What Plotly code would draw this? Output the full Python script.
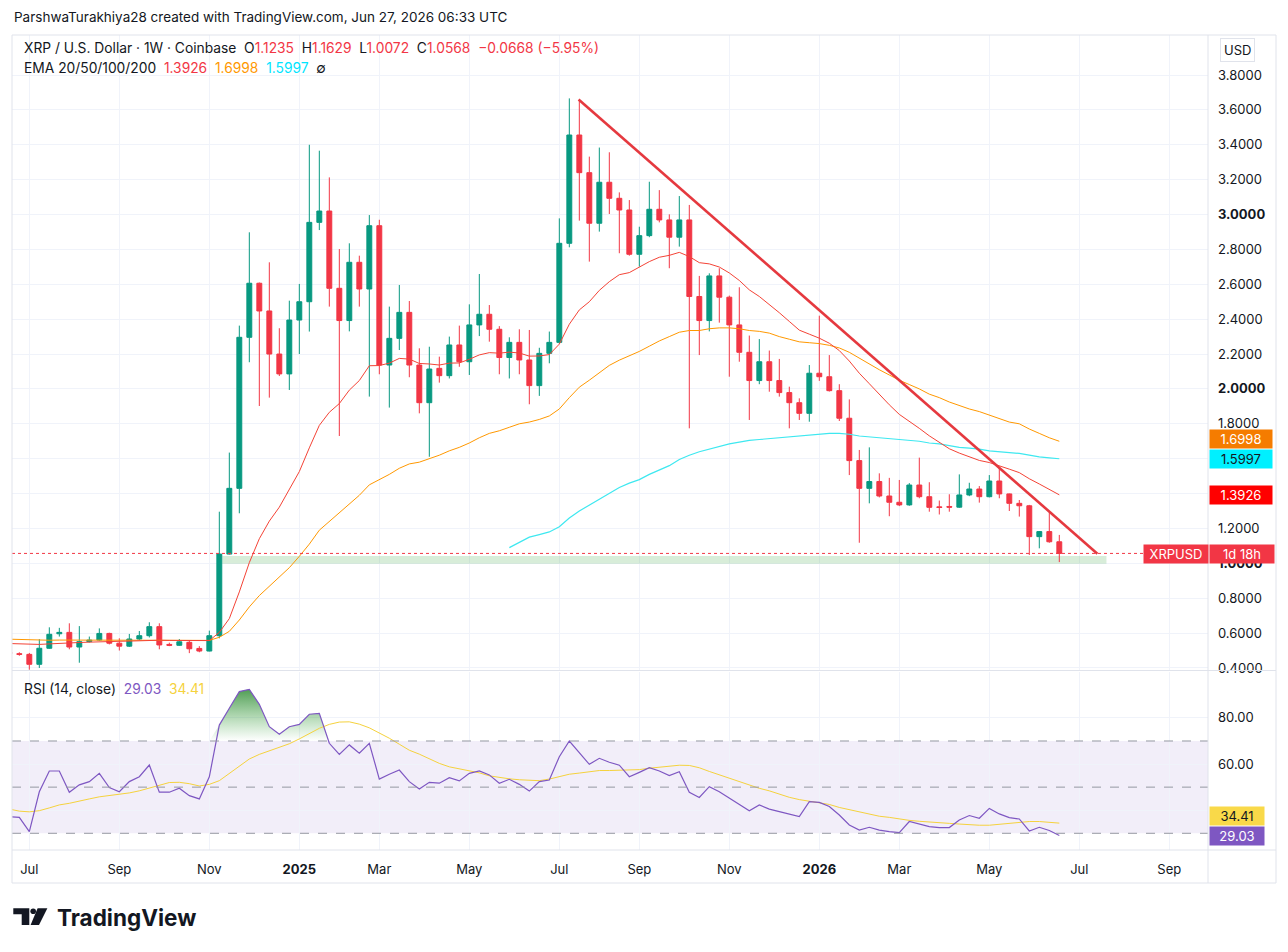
import numpy as np
import pandas as pd
import plotly.graph_objects as go
from plotly.subplots import make_subplots

# XRP / USD weekly candles (Coinbase), week of 2024-06-17 onwards
opens = [0.490, 0.482, 0.478, 0.421, 0.513, 0.596, 0.604, 0.520, 0.551, 0.560,
         0.598, 0.542, 0.525, 0.566, 0.585, 0.637, 0.535, 0.530, 0.547, 0.512,
         0.497, 0.585, 1.053, 1.430, 2.296, 2.606, 2.447, 2.200, 2.086, 2.395,
         2.500, 2.955, 3.020, 2.577, 2.392, 2.726, 2.573, 2.936, 2.137, 2.290,
         2.439, 2.137, 1.921, 2.118, 2.076, 2.252, 2.156, 2.367, 2.428, 2.342,
         2.180, 2.267, 2.166, 2.019, 2.204, 2.267, 2.835, 3.456, 3.240, 2.950,
         3.185, 3.093, 3.026, 2.772, 2.879, 3.030, 2.969, 2.870, 2.969, 2.530,
         2.392, 2.648, 2.526, 2.367, 2.210, 2.048, 2.156, 2.048, 1.979, 1.921,
         1.860, 2.090, 2.070, 1.990, 1.832, 1.589, 1.430, 1.469, 1.386, 1.350,
         1.335, 1.449, 1.382, 1.324, 1.326, 1.322, 1.392, 1.426, 1.382, 1.472,
         1.398, 1.344, 1.330, 1.153, 1.182, 1.1235]
highs = [0.498, 0.490, 0.486, 0.565, 0.633, 0.630, 0.656, 0.640, 0.580, 0.627,
         0.602, 0.570, 0.595, 0.612, 0.662, 0.656, 0.545, 0.566, 0.560, 0.525,
         0.614, 1.296, 1.635, 2.363, 2.898, 2.610, 2.726, 2.348, 2.506, 2.602,
         3.400, 3.366, 3.213, 2.802, 2.835, 2.764, 2.997, 2.970, 2.472, 2.596,
         2.504, 2.233, 2.242, 2.185, 2.300, 2.363, 2.485, 2.659, 2.481, 2.360,
         2.296, 2.342, 2.338, 2.236, 2.329, 2.978, 3.666, 3.657, 3.332, 3.384,
         3.357, 3.127, 3.083, 2.930, 3.188, 3.140, 3.001, 3.106, 3.055, 2.648,
         2.663, 2.692, 2.535, 2.583, 2.306, 2.286, 2.220, 2.172, 2.013, 1.946,
         2.137, 2.420, 2.194, 2.027, 1.940, 1.650, 1.665, 1.516, 1.490, 1.478,
         1.460, 1.606, 1.465, 1.360, 1.396, 1.510, 1.462, 1.443, 1.506, 1.548,
         1.400, 1.363, 1.335, 1.185, 1.296, 1.1629]
lows = [0.476, 0.470, 0.390, 0.400, 0.510, 0.580, 0.507, 0.430, 0.546, 0.555,
        0.535, 0.500, 0.520, 0.560, 0.575, 0.507, 0.525, 0.527, 0.485, 0.490,
        0.495, 0.570, 1.050, 1.287, 2.153, 1.902, 1.950, 2.074, 1.994, 2.200,
        2.329, 2.911, 2.472, 1.730, 2.330, 2.472, 1.956, 2.084, 1.893, 2.223,
        2.067, 1.860, 1.611, 2.036, 2.060, 2.127, 2.080, 2.303, 2.271, 2.084,
        2.060, 2.084, 1.912, 1.960, 2.147, 2.260, 2.812, 2.965, 2.730, 2.902,
        3.003, 2.778, 2.764, 2.701, 2.870, 2.955, 2.692, 2.816, 1.774, 2.194,
        2.330, 2.380, 2.070, 2.156, 1.822, 2.027, 1.984, 1.956, 1.774, 1.822,
        1.812, 2.046, 1.985, 1.816, 1.506, 1.118, 1.344, 1.378, 1.270, 1.328,
        1.330, 1.373, 1.296, 1.280, 1.296, 1.318, 1.385, 1.348, 1.378, 1.373,
        1.300, 1.268, 1.048, 1.086, 1.118, 1.0072]
closes = [0.482, 0.478, 0.421, 0.513, 0.593, 0.604, 0.520, 0.551, 0.560, 0.598,
          0.542, 0.525, 0.566, 0.585, 0.637, 0.532, 0.530, 0.550, 0.510, 0.497,
          0.585, 1.053, 1.430, 2.296, 2.606, 2.447, 2.200, 2.086, 2.395, 2.500,
          2.955, 3.020, 2.577, 2.392, 2.726, 2.573, 2.936, 2.137, 2.290, 2.439,
          2.137, 1.921, 2.114, 2.076, 2.252, 2.156, 2.367, 2.428, 2.342, 2.180,
          2.267, 2.166, 2.019, 2.204, 2.267, 2.835, 3.456, 3.240, 2.950, 3.185,
          3.093, 3.026, 2.772, 2.879, 3.030, 2.969, 2.870, 2.969, 2.530, 2.392,
          2.648, 2.526, 2.367, 2.210, 2.048, 2.156, 2.048, 1.979, 1.921, 1.860,
          2.090, 2.070, 1.990, 1.832, 1.589, 1.430, 1.469, 1.386, 1.350, 1.335,
          1.449, 1.382, 1.321, 1.320, 1.322, 1.392, 1.426, 1.382, 1.472, 1.398,
          1.344, 1.330, 1.153, 1.182, 1.1236, 1.0568]
weeks = pd.date_range('2024-06-17', periods=len(opens), freq='W-MON')

# EMA 20 / 50 / 100 as drawn (EMA 200 has no value yet)
ema20 = [0.540, 0.538, 0.535, 0.535, 0.538, 0.542, 0.544, 0.546, 0.548, 0.551,
         0.553, 0.553, 0.554, 0.556, 0.560, 0.559, 0.558, 0.558, 0.556, 0.554,
         0.557, 0.604, 0.683, 0.836, 1.004, 1.141, 1.242, 1.322, 1.424, 1.526,
         1.662, 1.791, 1.866, 1.916, 1.993, 2.048, 2.133, 2.134, 2.148, 2.175,
         2.171, 2.146, 2.143, 2.137, 2.148, 2.149, 2.170, 2.195, 2.208, 2.205,
         2.211, 2.206, 2.188, 2.189, 2.197, 2.257, 2.371, 2.453, 2.500, 2.565,
         2.615, 2.655, 2.667, 2.700, 2.730, 2.755, 2.766, 2.783, 2.759, 2.724,
         2.717, 2.699, 2.665, 2.622, 2.568, 2.530, 2.485, 2.437, 2.387, 2.337,
         2.314, 2.291, 2.262, 2.220, 2.160, 2.090, 2.030, 1.968, 1.909, 1.854,
         1.815, 1.774, 1.731, 1.692, 1.657, 1.632, 1.611, 1.590, 1.578, 1.561,
         1.540, 1.520, 1.485, 1.455, 1.423, 1.3926]
ema50 = [0.565, 0.563, 0.560, 0.558, 0.559, 0.560, 0.560, 0.560, 0.560, 0.560,
         0.560, 0.559, 0.559, 0.560, 0.561, 0.560, 0.559, 0.559, 0.558, 0.557,
         0.558, 0.576, 0.610, 0.675, 0.750, 0.815, 0.870, 0.920, 0.975, 1.040,
         1.110, 1.190, 1.240, 1.290, 1.340, 1.390, 1.450, 1.480, 1.510, 1.545,
         1.570, 1.580, 1.600, 1.620, 1.645, 1.665, 1.690, 1.720, 1.745, 1.760,
         1.780, 1.800, 1.810, 1.825, 1.845, 1.885, 1.950, 2.010, 2.050, 2.095,
         2.135, 2.165, 2.190, 2.215, 2.245, 2.275, 2.300, 2.325, 2.335, 2.335,
         2.345, 2.350, 2.350, 2.345, 2.335, 2.330, 2.320, 2.300, 2.285, 2.270,
         2.265, 2.260, 2.250, 2.235, 2.210, 2.175, 2.145, 2.110, 2.080, 2.050,
         2.025, 2.000, 1.970, 1.950, 1.925, 1.905, 1.885, 1.870, 1.850, 1.830,
         1.810, 1.800, 1.770, 1.745, 1.720, 1.6998]
ema100 = [None] * 50 + [
         1.090, 1.120, 1.150, 1.165, 1.180, 1.210, 1.260, 1.300, 1.335, 1.370,
         1.405, 1.435, 1.460, 1.480, 1.510, 1.535, 1.560, 1.595, 1.620, 1.640,
         1.655, 1.670, 1.685, 1.695, 1.705, 1.710, 1.715, 1.720, 1.725, 1.730,
         1.735, 1.740, 1.745, 1.745, 1.740, 1.730, 1.725, 1.720, 1.715, 1.710,
         1.705, 1.700, 1.690, 1.685, 1.675, 1.665, 1.660, 1.655, 1.645, 1.640,
         1.635, 1.630, 1.620, 1.610, 1.605, 1.5997]

# RSI (14, close) and its moving average
rsi = [37.2, 36.9, 30.7, 48.0, 57.0, 57.0, 47.8, 51.0, 52.4, 56.0,
       49.8, 48.0, 52.4, 54.5, 59.6, 47.8, 47.8, 49.5, 46.3, 44.9,
       54.5, 76.9, 84.2, 91.4, 92.4, 85.9, 76.2, 72.9, 76.2, 77.2,
       81.6, 82.0, 69.0, 64.2, 68.3, 64.7, 69.0, 53.5, 55.6, 57.4,
       52.4, 49.2, 52.1, 51.7, 54.1, 52.7, 56.0, 57.0, 55.3, 51.7,
       53.4, 51.2, 48.3, 52.4, 53.1, 63.2, 70.0, 65.1, 59.9, 62.5,
       60.8, 59.5, 54.5, 56.4, 58.4, 57.0, 55.0, 56.7, 47.8, 45.5,
       50.2, 48.0, 45.2, 42.6, 39.8, 42.3, 40.5, 39.4, 38.4, 37.2,
       43.7, 43.4, 41.6, 37.9, 33.6, 31.4, 32.6, 31.4, 30.7, 30.3,
       35.1, 33.9, 32.9, 32.5, 32.5, 35.8, 37.7, 36.5, 40.8, 38.4,
       36.8, 36.2, 31.0, 32.6, 31.2, 29.03]
rsi_ma = [40.5, 39.6, 39.3, 39.8, 41.0, 42.3, 43.0, 43.8, 44.9, 45.8,
          46.3, 46.7, 47.5, 48.4, 49.5, 50.8, 52.0, 52.1, 51.5, 50.5,
          51.2, 52.8, 56.0, 59.0, 62.2, 64.2, 65.7, 67.3, 68.8, 70.9,
          73.3, 75.5, 77.2, 78.2, 78.3, 77.3, 75.7, 73.5, 71.2, 68.6,
          66.0, 64.3, 62.2, 60.3, 58.8, 57.9, 57.0, 56.2, 54.9, 54.2,
          53.6, 53.2, 52.9, 52.8, 53.5, 54.5, 55.6, 56.1, 56.6, 57.2,
          57.2, 57.3, 57.4, 57.6, 58.2, 58.6, 59.1, 59.5, 59.4, 58.4,
          56.8, 55.3, 53.8, 52.3, 50.9, 49.5, 48.4, 47.0, 45.6, 44.6,
          43.9, 43.4, 42.5, 41.2, 40.3, 39.5, 38.5, 37.4, 36.9, 36.2,
          35.6, 35.2, 34.8, 34.4, 34.3, 34.0, 33.6, 33.5, 33.5, 33.9,
          34.3, 34.8, 35.1, 35.1, 34.9, 34.41]

# drawings on the chart: falling trendline and support zone
trend_dates = ['2025-07-20 12:00', '2026-07-18 16:00']
trend_prices = [3.66, 1.055]
zone_dates = ['2024-11-13', '2026-07-25']
zone_prices = [0.997, 1.042]

month_ticks = ['2024-07-01', '2024-09-02', '2024-11-04', '2025-01-06', '2025-03-03',
               '2025-05-05', '2025-07-07', '2025-09-01', '2025-11-03', '2026-01-05',
               '2026-03-02', '2026-05-04', '2026-07-06', '2026-09-07']
month_labels = ['Jul', 'Sep', 'Nov', '<b>2025</b>', 'Mar', 'May', 'Jul', 'Sep', 'Nov',
                '<b>2026</b>', 'Mar', 'May', 'Jul', 'Sep']
price_ticks = [round(0.4 + 0.2 * i, 1) for i in range(18)]
hidden_prices = [1.4, 1.6]   # covered by the EMA tags on the price scale
price_labels = ['' if v in hidden_prices else
                ('<b>%.4f</b>' % v if abs(v - round(v)) < 1e-9 else '%.4f' % v)
                for v in price_ticks]
rsi_ticks = [40, 60, 80]
rsi_labels = ['', '60.00', '80.00']

FONT = 'Inter, Roboto, sans-serif'
TEXT = '#131722'
GREEN = '#089981'
RED = '#f23645'
GRID = '#f0f3fa'
FRAME = '#e0e3eb'

# page pixels: the figure sits 8px inside the page (body margin)
OFF = 8
W, H = 1288 - OFF, 952 - OFF
L, R, T, B = 12, 1208, 35, 850   # plot area on the page


def px(x):
    return (x - L) / (R - L)


def py(y):
    return (B - y) / (B - T)


fig = make_subplots(rows=2, cols=1, shared_xaxes=True,
                    vertical_spacing=2 / (B - T), row_heights=[635, 178])

fig.add_trace(go.Candlestick(
    x=weeks, open=opens, high=highs, low=lows, close=closes,
    increasing=dict(line=dict(color=GREEN, width=1), fillcolor=GREEN),
    decreasing=dict(line=dict(color=RED, width=1), fillcolor=RED),
    whiskerwidth=0, hoverinfo='skip'), row=1, col=1)

fig.add_trace(go.Scatter(x=weeks, y=ema100, mode='lines', line=dict(color='#3ee8f0', width=1.2)), row=1, col=1)
fig.add_trace(go.Scatter(x=weeks, y=ema50, mode='lines', line=dict(color='#ff9800', width=1)), row=1, col=1)
fig.add_trace(go.Scatter(x=weeks, y=ema20, mode='lines', line=dict(color='#f44336', width=1)), row=1, col=1)
fig.add_trace(go.Scatter(x=trend_dates, y=trend_prices, mode='lines',
                         line=dict(color='#e5393f', width=2.6)), row=1, col=1)

# overbought gradient fill
fig.add_trace(go.Scatter(x=weeks, y=[70] * len(rsi), mode='lines', line=dict(width=0)), row=2, col=1)
fig.add_trace(go.Scatter(x=weeks, y=np.maximum(rsi, 70), mode='lines', line=dict(width=0),
                         fill='tonexty',
                         fillgradient=dict(type='vertical', start=70, stop=93,
                                           colorscale=[[0, 'rgba(76,175,80,0)'],
                                                       [1, 'rgba(56,142,60,0.9)']])),
              row=2, col=1)
fig.add_trace(go.Scatter(x=weeks, y=rsi_ma, mode='lines', line=dict(color='#f5d23d', width=1)), row=2, col=1)
fig.add_trace(go.Scatter(x=weeks, y=rsi, mode='lines', line=dict(color='#7e57c2', width=1.2)), row=2, col=1)

shapes = [
    # support zone and last-price line
    dict(type='rect', xref='x', yref='y', x0=zone_dates[0], x1=zone_dates[1],
         y0=zone_prices[0], y1=zone_prices[1], fillcolor='rgba(76,175,80,0.22)',
         line=dict(width=0), layer='between'),
    dict(type='line', xref='paper', yref='y', x0=0, x1=px(1143), y0=closes[-1], y1=closes[-1],
         line=dict(color=RED, width=1, dash='dot')),
    # RSI band and levels
    dict(type='rect', xref='paper', yref='y2', x0=0, x1=1, y0=30, y1=70,
         fillcolor='rgba(126,87,194,0.1)', line=dict(width=0), layer='between'),
]
for lvl in (30, 50, 70):
    shapes.append(dict(type='line', xref='paper', yref='y2', x0=0, x1=1, y0=lvl, y1=lvl,
                       line=dict(color='#9598a1', width=1, dash='dash')))
# frame
for (x0, y0, x1, y1) in [(12, 35, 1276, 35), (12, 883, 1276, 883), (1276, 35, 1276, 883),
                         (12, 35, 12, 883), (1208, 35, 1208, 883), (12, 670.5, 1276, 670.5),
                         (12, 850, 1276, 850)]:
    shapes.append(dict(type='line', xref='paper', yref='paper', x0=px(x0), x1=px(x1),
                       y0=py(y0), y1=py(y1), line=dict(color=FRAME, width=1)))


# TradingView logo
def path(points):
    return 'M' + ' L'.join('%f,%f' % (px(a), py(b)) for a, b in points) + ' Z'


shapes.append(dict(type='path', xref='paper', yref='paper', line=dict(width=0), fillcolor=TEXT,
                   path=path([(13.3, 908.3), (29.3, 908.3), (29.3, 925), (21.7, 925),
                              (21.7, 914.3), (13.3, 914.3)])))
shapes.append(dict(type='path', xref='paper', yref='paper', line=dict(width=0), fillcolor=TEXT,
                   path=path([(37.6, 908.3), (47.4, 908.3), (39.0, 925), (30.6, 925)])))
shapes.append(dict(type='circle', xref='paper', yref='paper', line=dict(width=0), fillcolor=TEXT,
                   x0=px(30.4), x1=px(36.0), y0=py(908.4), y1=py(914.0)))

nb = '\u00a0'


def col(txt, c):
    return '<span style="color:%s">%s</span>' % (c, txt)


chg = closes[-1] - closes[-2]
pct = chg / closes[-2] * 100
legend1 = ('XRP / U.S. Dollar · 1W · Coinbase' + nb * 2 +
           'O' + col('%.4f' % opens[-1], RED) + nb * 2 +
           'H' + col('%.4f' % highs[-1], RED) + nb * 2 +
           'L' + col('%.4f' % lows[-1], RED) + nb * 2 +
           'C' + col('%.4f' % closes[-1], RED) + nb * 2 +
           col(('%.4f (%.2f%%)' % (chg, pct)).replace('-', '−'), RED))
legend2 = ('EMA 20/50/100/200' + nb * 2 + col('%.4f' % ema20[-1], '#f23645') + nb * 2 +
           col('%.4f' % ema50[-1], '#ff9800') + nb * 2 + col('%.4f' % ema100[-1], '#00e5ff') +
           nb * 2 + '∅')
legend3 = ('RSI (14, close)' + nb * 2 + col('%.2f' % rsi[-1], '#7e57c2') + nb * 2 +
           col('%.2f' % rsi_ma[-1], '#f5d23d'))


def note(text, x, y, size=13, color=TEXT, anchor='left', **kw):
    return dict(text=text, x=px(x), y=py(y), xref='paper', yref='paper', showarrow=False,
                xanchor=anchor, yanchor='middle', font=dict(family=FONT, size=size, color=color), **kw)


def tag(text, x, y, bg, fg='#ffffff', w=58):
    return note(text, x, y, color=fg, bgcolor=bg, width=w, height=14, borderpad=2, align='center')


annotations = [
    note('ParshwaTurakhiya28 created with TradingView.com, Jun 27, 2026 06:33 UTC', 12, 17, size=13.5),
    note(legend1, 22, 48, size=13.8),
    note(legend2, 22, 68, size=13.8),
    note(legend3, 22, 689, size=13.8),
    note('USD', 1237, 50, anchor='center', bordercolor=FRAME, borderwidth=1, borderpad=3),
    tag('%.4f' % ema50[-1], 1209, 439, '#f57c00'),
    tag('%.4f' % ema100[-1], 1209, 459, '#00f0ff', fg=TEXT),
    tag('%.4f' % ema20[-1], 1209, 495, '#ff0000'),
    tag('XRPUSD', 1143, 554, RED, w=60),
    tag('1d 18h', 1209, 554, RED, w=60),
    tag('%.2f' % rsi_ma[-1], 1209, 816, '#f9d949', fg=TEXT, w=50),
    tag('%.2f' % rsi[-1], 1209, 836, '#7e57c2', w=50),
    note('<b>TradingView</b>', 55, 917, size=22.5),
]

fig.update_layout(
    width=W, height=H,
    margin=dict(l=L - OFF, r=(OFF + W) - R, t=T - OFF, b=(OFF + H) - B),
    paper_bgcolor='white', plot_bgcolor='white', showlegend=False, hovermode=False,
    font=dict(family=FONT, size=13, color=TEXT),
    shapes=shapes, annotations=annotations,
)
xr = ['2024-06-18 21:00', '2026-10-04 02:00']
fig.update_xaxes(range=xr, tickvals=month_ticks, ticktext=month_labels, showgrid=True,
                 gridcolor=GRID, zeroline=False, showline=False, rangeslider_visible=False,
                 tickfont=dict(family=FONT, size=13, color=TEXT), ticks='')
fig.update_xaxes(showticklabels=False, row=1, col=1)
fig.update_xaxes(ticklabelstandoff=10, row=2, col=1)
fig.update_yaxes(side='right', range=[0.3883, 4.0294], tickvals=price_ticks, ticktext=price_labels,
                 gridcolor=GRID, zeroline=False, showline=False, ticks='', ticklabelstandoff=9,
                 tickfont=dict(family=FONT, size=13, color=TEXT), row=1, col=1)
fig.update_yaxes(side='right', range=[22.76, 99.9], tickvals=rsi_ticks, ticktext=rsi_labels,
                 gridcolor=GRID, zeroline=False, showline=False, ticks='', ticklabelstandoff=9,
                 tickfont=dict(family=FONT, size=13, color=TEXT), row=2, col=1)

fig.write_html("out.html")
